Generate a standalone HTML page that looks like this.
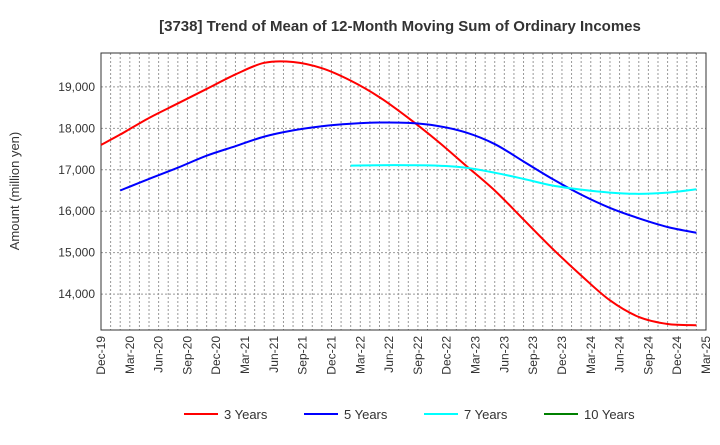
<!DOCTYPE html>
<html><head><meta charset="utf-8"><style>
body{margin:0;background:#fff;font-family:"Liberation Sans",sans-serif;}
svg text{font-family:"Liberation Sans",sans-serif;}
</style></head><body>
<svg id="chart" width="720" height="440">
<text x="400" y="31" text-anchor="middle" font-size="15" font-weight="bold" fill="#333">[3738]  Trend of Mean of 12-Month Moving Sum of Ordinary Incomes</text>
<text transform="translate(19,191) rotate(-90)" text-anchor="middle" font-size="13" fill="#333">Amount (million yen)</text>
<g id="grid"></g><g id="axes"></g><g id="series"></g><g id="legend"></g>
</svg>
<script>
const xLabels=["Dec-19","Mar-20","Jun-20","Sep-20","Dec-20","Mar-21","Jun-21","Sep-21","Dec-21","Mar-22","Jun-22","Sep-22","Dec-22","Mar-23","Jun-23","Sep-23","Dec-23","Mar-24","Jun-24","Sep-24","Dec-24","Mar-25"];
const yTicks=[14000,15000,16000,17000,18000,19000];
const months3=[0,2,5,8,11,14,17,20,23,26,29,32,35,38,41,44,47,50,53,56,59,62];
const years3=[17600,17850,18250,18600,18950,19300,19580,19600,19450,19150,18750,18250,17700,17100,16500,15800,15100,14450,13850,13450,13280,13250];
const months5=[2,5,8,11,14,17,20,23,26,29,32,35,38,41,44,47,50,53,56,59,62];
const years5=[16500,16780,17050,17340,17570,17800,17950,18050,18110,18140,18130,18060,17900,17620,17200,16780,16400,16080,15830,15620,15480];
const months7=[26,29,32,35,38,41,44,47,50,53,56,59,62];
const years7=[17100,17110,17110,17100,17050,16930,16780,16620,16520,16450,16420,16450,16530];
const months10=[];
const years10=[];
const L=101,R=706,T=53,B=330;
const yMin=13135,yMax=19817;
const totalMonths=(xLabels.length-1)*3;
const xs=m=>L+(R-L)*m/totalMonths;
const ys=v=>B-(v-yMin)/(yMax-yMin)*(B-T);
const NS="http://www.w3.org/2000/svg";
function mk(p,tag,a){const e=document.createElementNS(NS,tag);for(const k in a)e.setAttribute(k,a[k]);p.appendChild(e);return e;}
const grid=document.getElementById('grid'),axes=document.getElementById('axes'),ser=document.getElementById('series'),leg=document.getElementById('legend');
for(let m=1;m<totalMonths;m++){const x=xs(m);
const g=mk(grid,'line',{x1:x,x2:x,y1:T,y2:B,stroke:'#999','stroke-dasharray':'2,2','stroke-width':1});

}
yTicks.forEach(v=>{const y=ys(v);
const g=mk(grid,'line',{x1:L,x2:R,y1:y,y2:y,stroke:'#999','stroke-dasharray':'2,2'});


const t=mk(axes,'text',{x:L-6,y:y+4,'text-anchor':'end','font-size':12,fill:'#333'});t.textContent=v.toLocaleString('en-US');

});
const fr=mk(axes,'rect',{x:L,y:T,width:R-L,height:B-T,fill:'none',stroke:'#333'});


xLabels.forEach((s,i)=>{const x=xs(i*3);
const t=mk(axes,'text',{transform:`translate(${x+4},${B+6}) rotate(-90)`,'text-anchor':'end','font-size':12,fill:'#333'});t.textContent=s;

});
function path(ms,arr){const p=arr.map((v,i)=>[xs(ms[i]),ys(v)]);
if(!p.length)return '';let d=`M${p[0][0]},${p[0][1]}`;
for(let i=0;i<p.length-1;i++){const p0=p[i-1]||p[i],p1=p[i],p2=p[i+1],p3=p[i+2]||p2;
d+=` C${p1[0]+(p2[0]-p0[0])/6},${p1[1]+(p2[1]-p0[1])/6} ${p2[0]-(p3[0]-p1[0])/6},${p2[1]-(p3[1]-p1[1])/6} ${p2[0]},${p2[1]}`;}return d;}
const S=[["3 Years",months3,years3,"#ff0000"],["5 Years",months5,years5,"#0000ff"],["7 Years",months7,years7,"#00ffff"],["10 Years",months10,years10,"#008000"]];
S.forEach((s,k)=>{const d=path(s[1],s[2]);
if(d){const e=mk(ser,'path',{d:d,fill:'none',stroke:s[3],'stroke-width':2});

}
const lx=[184,304,424,544][k];
const ll=mk(leg,'line',{x1:lx,x2:lx+34,y1:414,y2:414,stroke:s[3],'stroke-width':2});


const lt=mk(leg,'text',{x:lx+40,y:419,'font-size':13,fill:'#333'});lt.textContent=s[0];

});
</script>
</body></html>
